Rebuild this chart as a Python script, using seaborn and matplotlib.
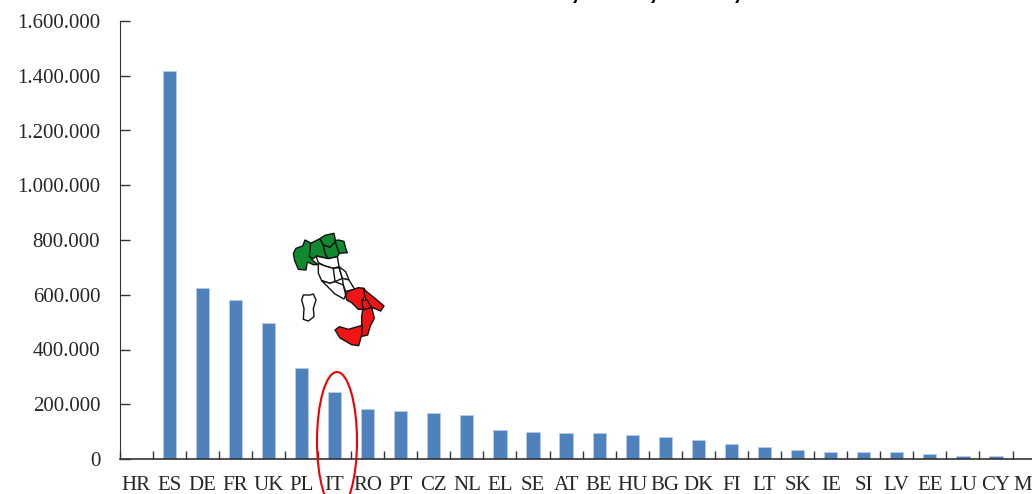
import matplotlib
matplotlib.use("Agg")
import matplotlib.pyplot as plt
from matplotlib.patches import Ellipse, Polygon
from matplotlib.ticker import FuncFormatter
import numpy as np
import seaborn as sns

countries = ["HR", "ES", "DE", "FR", "UK", "PL", "IT", "RO", "PT", "CZ", "NL", "EL", "SE", "AT",
             "BE", "HU", "BG", "DK", "FI", "LT", "SK", "IE", "SI", "LV", "EE", "LU", "CY", "MT"]
values = [0, 1418000, 625000, 581000, 497000, 332000, 245000, 184000, 175000, 167000, 160000,
          106000, 100000, 95000, 95000, 88000, 80000, 69000, 56000, 44000, 33000, 27000, 27000,
          25000, 18000, 11000, 10000, 0]
y_ticks = [0, 200000, 400000, 600000, 800000, 1000000, 1200000, 1400000, 1600000]

# italy map outlines, traced in a 3x crop starting at pixel (280, 220)
green_regions = [
    [(40, 100), (48, 85), (68, 78), (75, 60), (94, 70), (90, 108), (97, 120), (114, 134), (100, 134),
     (82, 126), (78, 150), (55, 148), (44, 122)],
    [(92, 70), (120, 56), (130, 75), (135, 100), (145, 116), (110, 108), (100, 116), (88, 110)],
    [(120, 56), (135, 46), (162, 40), (167, 65), (150, 82), (130, 75)],
    [(130, 75), (150, 82), (167, 65), (174, 85), (178, 100), (172, 110), (145, 116), (135, 100)],
    [(165, 62), (175, 60), (192, 64), (197, 85), (202, 98), (178, 100), (172, 85)],
]
white_regions = [
    [(108, 108), (145, 116), (172, 110), (177, 140), (160, 145), (135, 138), (115, 128)],
    [(115, 130), (135, 138), (160, 145), (165, 165), (165, 185), (150, 190), (125, 182), (115, 160)],
    [(160, 145), (177, 143), (187, 175), (165, 185)],
    [(177, 140), (197, 155), (207, 180), (187, 175)],
    [(125, 182), (150, 190), (165, 185), (190, 195), (197, 225), (192, 237), (165, 222), (145, 202)],
    [(187, 175), (207, 180), (224, 208), (197, 214), (190, 195)],
    [(70, 225), (90, 225), (100, 222), (108, 240), (100, 265), (102, 290), (85, 303), (70, 298),
     (72, 265), (65, 240)],
]
red_regions = [
    [(197, 225), (202, 215), (224, 207), (235, 203), (252, 205), (258, 222), (248, 240), (252, 268),
     (235, 268), (215, 248), (200, 240)],
    [(250, 205), (260, 215), (285, 235), (312, 258), (302, 273), (275, 262), (258, 242)],
    [(245, 240), (262, 240), (275, 265), (255, 272), (248, 262)],
    [(248, 270), (275, 262), (283, 295), (271, 318), (263, 345), (242, 350), (245, 320), (245, 290)],
    [(165, 330), (178, 320), (205, 328), (247, 316), (245, 345), (236, 377), (215, 374), (180, 354)],
]

sns.set_style("white")
plt.rcParams["font.family"] = ["Liberation Serif", "DejaVu Serif"]

fig = plt.figure(figsize=(10.32, 4.94), dpi=100)
# axes runs past the right edge, last label gets cut like in the original
ax = fig.add_axes([119.6 / 1032, 35 / 494, 926 / 1032, 438 / 494])

sns.barplot(x=countries, y=values, color="#4F81BD", saturation=1, width=0.4,
            edgecolor="#B9CDE5", linewidth=0.6, ax=ax)

ax.set_xlim(-0.5, len(countries) - 0.5)
ax.set_ylim(0, 1600000)
ax.set_yticks(y_ticks)
ax.yaxis.set_major_formatter(FuncFormatter(lambda v, p: f"{int(v):,}".replace(",", ".")))
ax.set_xticks(range(len(countries)))
ax.set_xticklabels(countries)
ax.set_xticks(np.arange(-0.5, len(countries)), minor=True)

ax.tick_params(axis="y", direction="in", length=7, width=1, color="#333333", labelsize=15,
               labelcolor="#262626", left=True, pad=14)
ax.tick_params(axis="x", which="major", length=0, labelsize=15, labelcolor="#262626", pad=12)
ax.tick_params(axis="x", which="minor", direction="in", length=6, width=1, color="#333333",
               bottom=True)

sns.despine(ax=ax)
ax.spines["left"].set_color("#333333")
ax.spines["bottom"].set_color("#333333")
ax.spines["bottom"].set_linewidth(1.2)

# overlay in pixels for the map and the red circle
over = fig.add_axes([0, 0, 1, 1])
over.set_xlim(0, 1032)
over.set_ylim(494, 0)
over.axis("off")
over.patch.set_alpha(0)

for regions, colour in [(green_regions, "#0F8A30"), (white_regions, "white"), (red_regions, "#F01414")]:
    for r in regions:
        pts = [(280 + x / 3, 220 + y / 3) for x, y in r]
        over.add_patch(Polygon(pts, closed=True, facecolor=colour, edgecolor="#111111", linewidth=1.0,
                               joinstyle="round"))

over.add_patch(Ellipse((337, 441), 40, 138, fill=False, edgecolor="#F00000", linewidth=1.5))

# bits of the cropped title above the frame
for px in [575, 653, 737]:
    over.text(px, -2, ",", fontsize=22, fontweight="bold", ha="center", va="baseline",
              family="Liberation Sans", color="black", clip_on=False)
over.text(894, -7, "y", fontsize=24, fontweight="bold", style="italic", ha="center", va="baseline",
          family="Liberation Sans", color="black", clip_on=False)

fig.savefig("out.png", dpi=100, facecolor="white")
